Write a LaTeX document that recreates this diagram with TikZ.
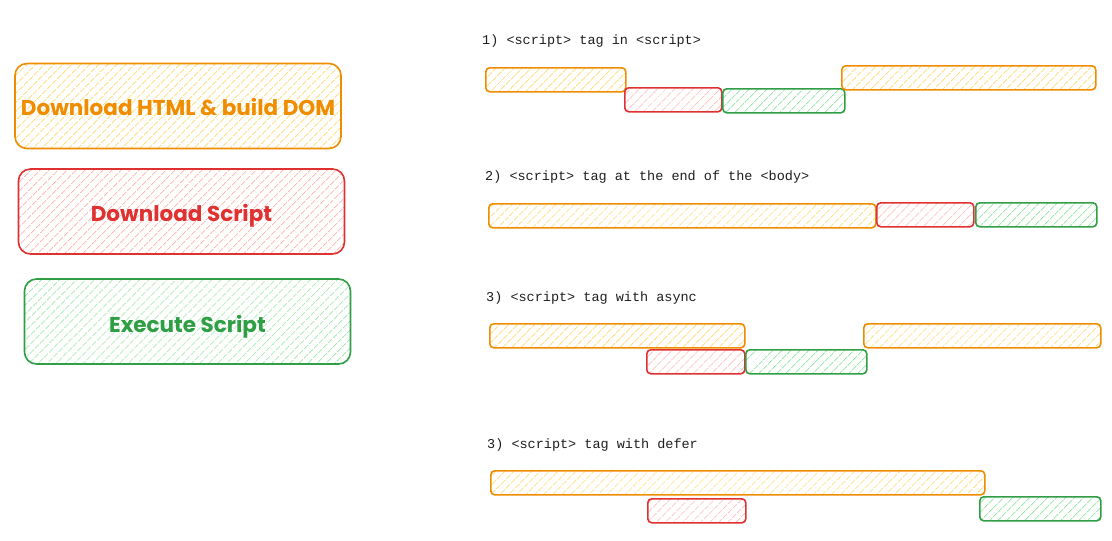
\documentclass[tikz,border=0pt]{standalone}
\usepackage{fontspec}
\setmonofont{Liberation Mono}
\newfontfamily\legendfont{Poppins}
\usetikzlibrary{%
  patterns.meta,%
  positioning%
}
\definecolor{htmlline}{HTML}{F08C00}
\definecolor{htmlfill}{HTML}{FFDD80}
\definecolor{dlline}{HTML}{E03131}
\definecolor{dlfill}{HTML}{FFBABA}
\definecolor{exline}{HTML}{2F9E44}
\definecolor{exfill}{HTML}{9FE8AC}
\definecolor{ink}{HTML}{1E1E1E}
\newcommand{\lowered}[2]{\raisebox{-#1}[\height][\depth]{#2}}
\tikzset{
  hatch/.style={line width=1.6pt,draw=#1line,
    pattern={Lines[angle=45,distance=6.5pt,line width=1pt]},pattern color=#1fill},
  legendbox/.style={hatch=#1,rounded corners=12pt,minimum width=326pt,
    minimum height=85pt,inner sep=0pt,text=#1line,
    font=\legendfont\bfseries\fontsize{21.5}{24}\selectfont},
  bar/.style={hatch=#1,rounded corners=4pt,minimum height=24pt,inner sep=0pt,
    anchor=north west},
  caption/.style={anchor=west,text=ink,font=\ttfamily\fontsize{13.5}{15}\selectfont,inner sep=0pt}
}

\begin{document}
\begin{tikzpicture}[x=1pt,y=-1pt]
    \useasboundingbox (0,0) rectangle (1112,541);
    % legend
    \node[legendbox=html] (lhtml) at (178,106) {\lowered{1pt}{Download HTML \& build DOM}};
    \node[legendbox=dl] (ldl) at (181.5,211.5) {\lowered{4pt}{Download Script}};
    \node[legendbox=ex] (lex) at (187.5,321.5) {\lowered{5pt}{Execute Script}};

    % 1) script in head
    \node[caption] (c1) at (482,41) {1) <script> tag in <script>};
    \node[bar=html,minimum width=140pt] (h1a) at (485,67) {};
    \node[bar=dl,minimum width=97pt] (d1) at (624,87) {};
    \node[bar=ex,minimum width=122pt] (e1) at (722,88) {};
    \node[bar=html,minimum width=254pt] (h1b) at (841,65) {};

    % 2) script at end of body
    \node[caption] (c2) at (485,177) {2) <script> tag at the end of the <body>};
    \node[bar=html,minimum width=387pt] (h2) at (488,203) {};
    \node[bar=dl,minimum width=97pt] (d2) at (876,202) {};
    \node[bar=ex,minimum width=121pt] (e2) at (975,202) {};

    % 3) async
    \node[caption] (c3) at (486,298) {3) <script> tag with async};
    \node[bar=html,minimum width=255pt] (h3a) at (489,323) {};
    \node[bar=dl,minimum width=98pt] (d3) at (646,349) {};
    \node[bar=ex,minimum width=121pt] (e3) at (745,349) {};
    \node[bar=html,minimum width=237pt] (h3b) at (863,323) {};

    % 3) defer
    \node[caption] (c4) at (487,445) {3) <script> tag with defer};
    \node[bar=html,minimum width=494pt] (h4) at (490,470) {};
    \node[bar=dl,minimum width=98pt] (d4) at (647,498) {};
    \node[bar=ex,minimum width=121pt] (e4) at (979,496) {};
\end{tikzpicture}
\end{document}
